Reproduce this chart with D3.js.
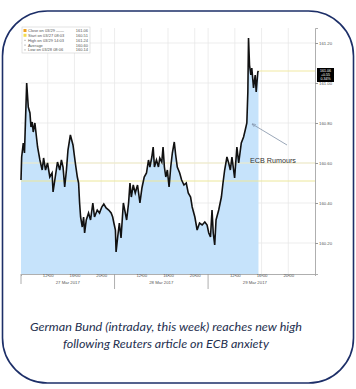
<!DOCTYPE html>
<html><head><meta charset="utf-8">
<script src="https://cdn.jsdelivr.net/npm/d3@7"></script>
<style>html,body{margin:0;padding:0;background:#fff;}svg{display:block;}</style>
</head><body>
<svg id="chart" width="356" height="389"></svg>
<script>
// trading hours since 27 Mar 2017 08:00 (sessions 08:00–22:00, overnight removed)
const times = [0,0.10,0.34,0.52,0.85,1.09,1.34,1.49,1.68,1.83,2.08,2.48,2.83,3.17,3.38,3.67,3.97,4.31,4.65,4.80,5.06,5.46,5.80,6.05,6.29,6.54,6.80,7.03,7.39,7.78,8.13,8.43,8.62,8.77,8.92,9.17,9.37,9.52,9.77,10.11,10.41,10.75,11.00,11.41,11.75,12.09,12.39,12.74,13.13,13.49,13.72,13.90,14.13,14.23,14.47,14.72,14.97,15.32,15.61,15.81,16.10,16.31,16.51,16.80,17.10,17.44,17.80,18.10,18.44,18.78,19.08,19.29,19.58,19.78,19.97,20.27,20.57,20.77,21.07,21.26,21.46,21.67,21.90,22.16,22.41,22.65,22.94,23.15,23.39,23.75,24.04,24.39,24.73,25.03,25.38,25.62,26.02,26.36,26.72,27.11,27.51,27.85,28.10,28.36,28.59,28.77,28.99,29.19,29.59,29.99,30.23,30.48,30.82,31.08,31.33,31.57,31.97,32.31,32.58,32.97,33.31,33.56,33.80,33.95,34.05,34.20,34.40,34.54,34.80,35.05,35.20,35.44,35.54];
const prices = [160.515,160.63,160.70,160.65,161.00,160.88,160.85,160.78,160.805,160.755,160.80,160.68,160.615,160.565,160.625,160.565,160.60,160.53,160.55,160.455,160.515,160.605,160.565,160.615,160.58,160.48,160.565,160.665,160.74,160.69,160.60,160.53,160.50,160.40,160.33,160.28,160.33,160.25,160.315,160.35,160.315,160.40,160.33,160.365,160.35,160.38,160.395,160.375,160.365,160.35,160.33,160.30,160.265,160.155,160.23,160.30,160.225,160.40,160.35,160.315,160.40,160.50,160.43,160.49,160.45,160.49,160.40,160.475,160.53,160.55,160.615,160.58,160.63,160.68,160.58,160.615,160.58,160.625,160.605,160.68,160.58,160.53,160.565,160.48,160.58,160.65,160.705,160.64,160.58,160.55,160.515,160.49,160.50,160.45,160.43,160.38,160.33,160.265,160.30,160.29,160.305,160.29,160.25,160.23,160.365,160.25,160.19,160.315,160.365,160.43,160.50,160.565,160.63,160.60,160.565,160.63,160.525,160.68,160.60,160.70,160.73,160.765,160.80,160.955,161.225,161.09,161.04,161.075,160.975,161.04,160.955,161.055,161.06];

const timeTicks = [4,8,12,18,22,26,32,36,40];
const timeTickLabels = ["12:00","16:00","20:00","12:00","16:00","20:00","12:00","16:00","20:00"];
const dayBreaks = [0,14,28];
const dayCentres = [7,21,35];
const dayLabels = ["27 Mar 2017","28 Mar 2017","29 Mar 2017"];
const priceTicks = [160.20,160.40,160.60,160.80,161.00,161.20];

const startValue = 160.51;
const averageValue = 160.60;
const closeValue = 161.06;
const closeBox = ["161.06","+0.55","0.34%"];

const legendLabels = ["Close on 03/29 \u2014\u2014","Start on 03/27 08:03","High on 03/29 14:03","Average","Low on 03/28 08:06"];
const legendValues = ["161.06","160.51","161.24","160.60","160.14"];
const legendSwatches = ["#f0a020","#f2dc50","none","none","none"];

const annotationText = "ECB Rumours";
const annotationTime = 33.85;
const annotationPrice = 160.80;
const captionLines = ["German Bund (intraday, this week) reaches new high","following Reuters article on ECB anxiety"];

const svg = d3.select("#chart");
const x = d3.scaleLinear().domain([0,44]).range([21,315]);
const y = d3.scaleLinear().domain([160.045,161.275]).range([274,28]);
const data = times.map((t,i)=>({t, v:prices[i]}));

// grid
const g = svg.append("g");
g.selectAll(".vg").data(timeTicks.concat(dayBreaks.slice(1))).join("line")
  .attr("x1",d=>x(d)).attr("x2",d=>x(d)).attr("y1",y.range()[1]).attr("y2",y.range()[0])
  .attr("stroke","#e9e9e9").attr("stroke-width",0.8);
g.selectAll(".hg").data(priceTicks).join("line")
  .attr("x1",x(0)).attr("x2",x(44)).attr("y1",d=>y(d)).attr("y2",d=>y(d))
  .attr("stroke","#e9e9e9").attr("stroke-width",0.8);

// area + reference lines + line
svg.append("path").datum(data)
  .attr("d", d3.area().x(d=>x(d.t)).y0(y.range()[0]).y1(d=>y(d.v)))
  .attr("fill","#c6e3fb");
svg.append("line").attr("x1",x(0)).attr("x2",x(44)).attr("y1",y(averageValue)).attr("y2",y(averageValue))
  .attr("stroke","#f1ecc4").attr("stroke-width",1);
svg.append("line").attr("x1",x(0)).attr("x2",x(44)).attr("y1",y(startValue)).attr("y2",y(startValue))
  .attr("stroke","#ece79a").attr("stroke-width",1);
svg.append("line").attr("x1",x(times[times.length-1])).attr("x2",x(44)).attr("y1",y(closeValue)).attr("y2",y(closeValue))
  .attr("stroke","#f1e9a2").attr("stroke-width",1);
svg.append("path").datum(data)
  .attr("d", d3.line().x(d=>x(d.t)).y(d=>y(d.v)))
  .attr("fill","none").attr("stroke","#111").attr("stroke-width",1.6).attr("stroke-linejoin","miter");

// x axis
const xa = svg.append("g").attr("transform",`translate(0,${y.range()[0]})`)
  .call(d3.axisBottom(x).tickValues(timeTicks).tickSize(2).tickFormat((d,i)=>timeTickLabels[i]));
xa.select(".domain").attr("stroke","#9a9a9a").attr("stroke-width",0.8);
xa.selectAll(".tick line").attr("stroke","#9a9a9a");
xa.selectAll("text").attr("font-family","Liberation Sans, Arial, sans-serif").attr("font-size",4.3).attr("fill","#555").attr("dy","0.2em").attr("y",2);
svg.selectAll(".dayb").data(dayBreaks).join("line")
  .attr("x1",d=>x(d)).attr("x2",d=>x(d)).attr("y1",y.range()[0]).attr("y2",(d,i)=>i===0?284:289)
  .attr("stroke","#9a9a9a").attr("stroke-width",0.8);
svg.selectAll(".dayl").data(dayLabels).join("text")
  .attr("x",(d,i)=>x(dayCentres[i])).attr("y",284).attr("text-anchor","middle")
  .attr("font-family","Liberation Sans, Arial, sans-serif").attr("font-size",4.3).attr("fill","#555").text(d=>d);

// right y axis
const ya = svg.append("g").attr("transform",`translate(${x(44)},0)`)
  .call(d3.axisRight(y).tickValues(priceTicks).tickSize(3).tickFormat(d3.format(".2f")));
ya.select(".domain").attr("stroke","#9a9a9a").attr("stroke-width",0.8);
ya.selectAll(".tick line").attr("stroke","#9a9a9a");
ya.selectAll("text").attr("font-family","Liberation Sans, Arial, sans-serif").attr("font-size",4.3).attr("fill","#555").attr("x",4);

// close box
const cb = svg.append("g").attr("transform",`translate(${x(44)+2},${y(closeValue)-3})`);
cb.append("rect").attr("width",17).attr("height",14).attr("fill","#000");
cb.selectAll("text").data(closeBox).join("text")
  .attr("x",8.5).attr("y",(d,i)=>3.8+i*4.2).attr("text-anchor","middle")
  .attr("font-family","Liberation Sans, Arial, sans-serif").attr("font-size",3.6).attr("fill","#fff").text(d=>d);

// annotation
svg.append("defs").append("marker").attr("id","ah").attr("viewBox","0 0 10 10").attr("refX",9).attr("refY",5)
  .attr("markerWidth",5).attr("markerHeight",5).attr("orient","auto")
  .append("path").attr("d","M0,1 L10,5 L0,9").attr("fill","none").attr("stroke","#8090a6").attr("stroke-width",1.5);
svg.append("line").attr("x1",287).attr("y1",145).attr("x2",x(annotationTime)+5).attr("y2",y(annotationPrice)+1)
  .attr("stroke","#8090a6").attr("stroke-width",0.8).attr("marker-end","url(#ah)");
svg.append("text").attr("x",250).attr("y",163).attr("font-family","Liberation Sans, Arial, sans-serif")
  .attr("font-size",7.2).attr("fill","#333").text(annotationText);

// legend
const lg = svg.append("g").attr("transform","translate(22,27)");
lg.append("rect").attr("width",68).attr("height",26).attr("fill","#fff").attr("stroke","#d0d0d0").attr("stroke-width",0.6);
legendLabels.forEach((lab,i)=>{
  const yy = 4 + i*4.8;
  if (legendSwatches[i] !== "none") lg.append("rect").attr("x",1.5).attr("y",yy-2).attr("width",3).attr("height",3).attr("fill",legendSwatches[i]);
  else lg.append("rect").attr("x",2.5).attr("y",yy-0.8).attr("width",1).attr("height",1).attr("fill","#888");
  lg.append("text").attr("x",6).attr("y",yy+1.1).attr("font-family","Liberation Sans, Arial, sans-serif")
    .attr("font-size",4).attr("fill","#555").text(lab);
  lg.append("text").attr("x",66).attr("y",yy+1.1).attr("text-anchor","end").attr("font-family","Liberation Sans, Arial, sans-serif")
    .attr("font-size",4).attr("fill","#555").text(legendValues[i]);
});

// border
svg.append("rect").attr("x",2.5).attr("y",11).attr("width",351).attr("height",372).attr("rx",45).attr("ry",45)
  .attr("fill","none").attr("stroke","#1d2f68").attr("stroke-width",1.6);

// caption
const capWidths = [272, 206];
svg.selectAll(".cap").data(captionLines).join("text")
  .attr("x",166).attr("y",(d,i)=>331+i*16.5).attr("text-anchor","middle")
  .attr("font-family","Lato, sans-serif").attr("font-style","italic").attr("font-size",11.6)
  .attr("textLength",(d,i)=>capWidths[i]).attr("lengthAdjust","spacingAndGlyphs")
  .attr("fill","#25304f").text(d=>d);
</script>
</body></html>
